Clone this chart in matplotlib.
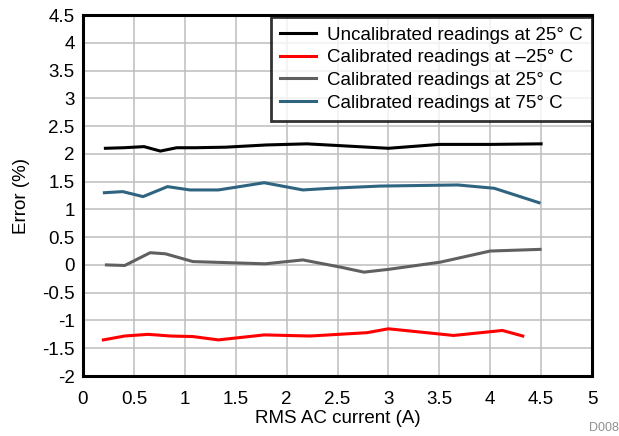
import matplotlib
matplotlib.use("Agg")
import matplotlib.pyplot as plt

plt.rcParams['font.family'] = ['Liberation Sans', 'DejaVu Sans']

# RMS AC current (A) and error (%) for each series
uncal_25_x = [0.22, 0.4, 0.6, 0.76, 0.92, 1.1, 1.4, 1.8, 2.2, 3.0, 3.5, 4.0, 4.5]
uncal_25_y = [2.10, 2.11, 2.13, 2.05, 2.11, 2.11, 2.12, 2.16, 2.18, 2.10, 2.17, 2.17, 2.18]

cal_m25_x = [0.2, 0.41, 0.64, 0.86, 1.08, 1.33, 1.78, 2.23, 2.79, 3.0, 3.64, 4.12, 4.32]
cal_m25_y = [-1.35, -1.28, -1.25, -1.28, -1.29, -1.35, -1.26, -1.28, -1.22, -1.15, -1.27, -1.18, -1.28]

cal_25_x = [0.23, 0.41, 0.66, 0.81, 1.08, 1.79, 2.16, 2.53, 2.76, 3.0, 3.51, 4.0, 4.49]
cal_25_y = [0.0, -0.01, 0.22, 0.20, 0.06, 0.02, 0.09, -0.04, -0.13, -0.08, 0.05, 0.25, 0.28]

cal_75_x = [0.21, 0.39, 0.59, 0.83, 1.05, 1.33, 1.78, 2.16, 2.43, 2.92, 3.68, 4.04, 4.48]
cal_75_y = [1.30, 1.32, 1.23, 1.41, 1.35, 1.35, 1.48, 1.35, 1.38, 1.42, 1.44, 1.38, 1.12]

series_labels = [
    "Uncalibrated readings at 25\u00b0 C",
    "Calibrated readings at \u201325\u00b0 C",
    "Calibrated readings at 25\u00b0 C",
    "Calibrated readings at 75\u00b0 C",
]
x_ticks = [0, 0.5, 1, 1.5, 2, 2.5, 3, 3.5, 4, 4.5, 5]
x_tick_labels = ["0", "0.5", "1", "1.5", "2", "2.5", "3", "3.5", "4", "4.5", "5"]
y_ticks = [-2, -1.5, -1, -0.5, 0, 0.5, 1, 1.5, 2, 2.5, 3, 3.5, 4, 4.5]
y_tick_labels = ["-2", "-1.5", "-1", "-0.5", "0", "0.5", "1", "1.5", "2", "2.5",
                 "3", "3.5", "4", "4.5"]

FS = 13.5

fig = plt.figure(figsize=(6.19, 4.36), dpi=100)
ax = fig.add_axes([83 / 619, 1 - 376 / 436, (592 - 83) / 619, (376 - 15) / 436])

colors = ["#000000", "#ff0000", "#606060", "#2f6480"]
data = [(uncal_25_x, uncal_25_y), (cal_m25_x, cal_m25_y),
        (cal_25_x, cal_25_y), (cal_75_x, cal_75_y)]
for (xs, ys), c, lab in zip(data, colors, series_labels):
    ax.plot(xs, ys, color=c, lw=2.2, label=lab, solid_joinstyle='round')

ax.set_xlim(0, 5)
ax.set_ylim(-2, 4.5)
ax.set_xticks(x_ticks)
ax.set_xticklabels(x_tick_labels)
ax.set_yticks(y_ticks)
ax.set_yticklabels(y_tick_labels)
ax.tick_params(length=0, labelsize=FS, colors="#000000")
ax.tick_params(axis="x", pad=11)
ax.tick_params(axis="y", pad=6)
ax.grid(True, color="#bdbdbd", lw=1.1)
ax.set_axisbelow(True)
for s in ax.spines.values():
    s.set_linewidth(2.2)
    s.set_color("#000000")

ax.set_xlabel("RMS AC current (A)", fontsize=FS, labelpad=1)
ax.set_ylabel("Error (%)", fontsize=FS, labelpad=9)

leg = ax.legend(loc="upper right", bbox_to_anchor=(1.0, 1.0 - 2 / 361),
                fontsize=FS, frameon=True, fancybox=False,
                borderpad=0.5, handlelength=1.9, handletextpad=0.6, labelspacing=0.3,
                borderaxespad=0.0)
leg.get_frame().set_edgecolor("#000000")
leg.get_frame().set_linewidth(2.0)

fig.text(619 / 619, 1 - 428 / 436, "D008", ha="right", va="center",
         fontsize=9, color="#909090")

fig.savefig("out.png", dpi=100)
